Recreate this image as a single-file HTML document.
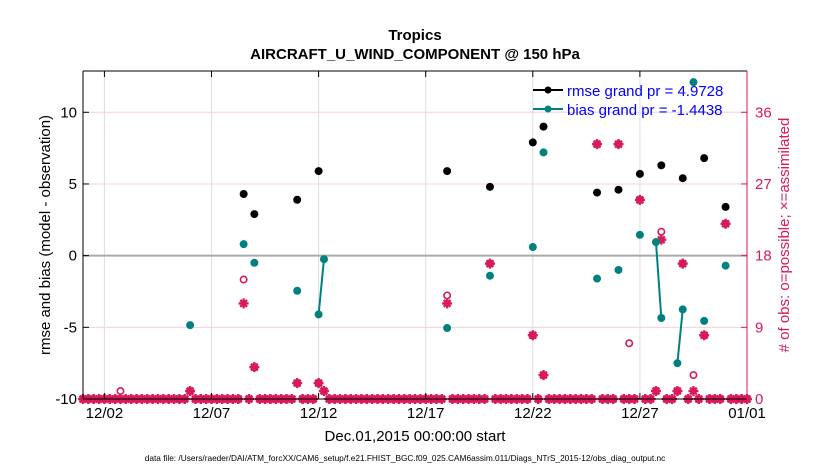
<!DOCTYPE html>
<html><head><meta charset="utf-8"><style>
html,body{margin:0;padding:0;background:#fff;}
svg{display:block;font-family:"Liberation Sans",Arial,sans-serif;}
</style></head><body>
<svg id="chart" width="830" height="470" viewBox="0 0 830 470" xmlns="http://www.w3.org/2000/svg">
<text x="415" y="40" text-anchor="middle" font-size="15" font-weight="bold">Tropics</text>
<text x="415" y="59" text-anchor="middle" font-size="15" font-weight="bold">AIRCRAFT_U_WIND_COMPONENT @ 150 hPa</text>
<g id="grid"></g>
<g id="marks"></g>
<g id="axes"></g>
<text transform="translate(50,235) rotate(-90)" text-anchor="middle" font-size="15">rmse and bias (model - observation)</text>
<text transform="translate(789,235) rotate(-90)" text-anchor="middle" font-size="15" fill="#d81a5a"># of obs: o=possible; ×=assimilated</text>
<text x="415" y="441" text-anchor="middle" font-size="15">Dec.01,2015 00:00:00 start</text>
<text x="405" y="461" text-anchor="middle" font-size="8.3">data file: /Users/raeder/DAI/ATM_forcXX/CAM6_setup/f.e21.FHIST_BGC.f09_025.CAM6assim.011/Diags_NTrS_2015-12/obs_diag_output.nc</text>
<g>
<line x1="533" y1="90" x2="563" y2="90" stroke="#000" stroke-width="2"/>
<circle cx="548" cy="90" r="3.5" fill="#000"/>
<text x="567" y="96" font-size="15" fill="#0000ff">rmse grand pr = 4.9728</text>
<line x1="533" y1="109" x2="563" y2="109" stroke="#008080" stroke-width="2"/>
<circle cx="548" cy="109" r="3.5" fill="#008080"/>
<text x="567" y="115" font-size="15" fill="#0000ff">bias grand pr = -1.4438</text>
</g>
</svg>
<script>
const rmseDays=[7.5,8,10,11,17,19,21,21.5,24,25,26,27,28,29,30];
const rmseVals=[4.3,2.9,3.9,5.9,5.9,4.8,7.9,9.0,4.4,4.6,5.7,6.3,5.4,6.8,3.4];
const biasDays=[5,7.5,8,10,11,11.25,17,19,21,21.5,24,25,26,26.75,27,27.75,28,28.5,29,30];
const biasVals=[-4.85,0.8,-0.5,-2.45,-4.1,-0.25,-5.05,-1.4,0.6,7.2,-1.6,-1.0,1.45,0.95,-4.35,-7.5,-3.75,12.1,-4.55,-0.7];
const possDays=[1.75,5,7.5,8,10,11,11.25,17,19,21,21.5,24,25,25.5,26,26.75,27,27.75,28,28.5,29,30];
const possCounts=[1,1,15,4,2,2,1,13,17,8,3,32,32,7,25,1,21,1,17,3,8,22];
const assimDays=[5,7.5,8,10,11,11.25,17,19,21,21.5,24,25,26,26.75,27,27.75,28,28.5,29,30];
const assimCounts=[1,12,4,2,2,1,12,17,8,3,32,32,25,1,20,1,17,1,8,22];
const xTickDays=[1,6,11,16,21,26,31];
const xTickLabels=["12/02","12/07","12/12","12/17","12/22","12/27","01/01"];
const yTicks=[-10,-5,0,5,10];
const y2Ticks=[0,9,18,27,36];

const L=83,R=747,T=71,B=399;
const X=d=>L+(d-0)*(R-L)/31;
const Y=v=>B-(v+10)*(B-T)/22.88;
const Y2=c=>B-c*(B-T)/41.18;
const NS="http://www.w3.org/2000/svg";
const RED="#d81a5a",TEAL="#008080";
function mk(tag,attrs,parent){const e=document.createElementNS(NS,tag);for(const k in attrs)e.setAttribute(k,attrs[k]);parent.appendChild(e);return e;}
const grid=document.getElementById('grid'),marks=document.getElementById('marks'),axes=document.getElementById('axes');

xTickDays.forEach((d,i)=>{
 const g=mk('line',{x1:X(d),x2:X(d),y1:T,y2:B,stroke:'#ddd','stroke-width':1},grid);
 
 
 mk('line',{x1:X(d),x2:X(d),y1:B,y2:B-6,stroke:'#000'},axes);
 mk('line',{x1:X(d),x2:X(d),y1:T,y2:T+6,stroke:'#000'},axes);
 const t=mk('text',{x:X(d),y:B+19,'text-anchor':'middle','font-size':15},axes);
 t.textContent=xTickLabels[i];
 
 
});
yTicks.forEach(v=>{
 if(v!==0&&v!==-10){const g=mk('line',{x1:L,x2:R,y1:Y(v),y2:Y(v),stroke:'#f5d0dc','stroke-width':1},grid);
 
 }
 mk('line',{x1:L,x2:L+6,y1:Y(v),y2:Y(v),stroke:'#000'},axes);
 const t=mk('text',{x:L-6,y:Y(v)+5,'text-anchor':'end','font-size':15},axes);
 t.textContent=v;
 
 
});
const zl=mk('line',{x1:L,x2:R,y1:Y(0),y2:Y(0),stroke:'#aaa','stroke-width':2},grid);


y2Ticks.forEach(c=>{
 mk('line',{x1:R,x2:R-6,y1:Y2(c),y2:Y2(c),stroke:RED},axes);
 const t=mk('text',{x:R+8,y:Y2(c)+5,'font-size':15,fill:RED},axes);
 t.textContent=c;
 
 
});
mk('line',{x1:L,x2:L,y1:T,y2:B,stroke:'#000'},axes);
mk('line',{x1:L,x2:R,y1:T,y2:T,stroke:'#000'},axes);
mk('line',{x1:L,x2:R,y1:B,y2:B,stroke:'#000'},axes);
mk('line',{x1:R,x2:R,y1:T,y2:B,stroke:RED},axes);

function star(x,y,parent,name){
 const g=mk('g',{stroke:RED,'stroke-width':2.4},parent);
 
 
 const r=5;
 mk('line',{x1:x-r,x2:x+r,y1:y,y2:y},g);mk('line',{x1:x,x2:x,y1:y-r,y2:y+r},g);
 mk('line',{x1:x-3.4,x2:x+3.4,y1:y-3.4,y2:y+3.4},g);mk('line',{x1:x-3.4,x2:x+3.4,y1:y+3.4,y2:y-3.4},g);
 return g;
}
for(let k=0;k<=124;k++){const d=k/4;if(assimDays.indexOf(d)<0){
 const g=mk('g',{},marks);
 
 
 mk('circle',{cx:X(d),cy:Y2(0),r:3.2,fill:RED,stroke:RED,'stroke-width':1.6},g);
 star(X(d),Y2(0),g,'zero-assimilated');
}}
possDays.forEach((d,i)=>{
 const c=mk('circle',{cx:X(d),cy:Y2(possCounts[i]),r:3.2,fill:'none',stroke:RED,'stroke-width':1.6},marks);
 
 
});
assimDays.forEach((d,i)=>{star(X(d),Y2(assimCounts[i]),marks,'assimilated-count-point');});

for(let i=1;i<biasDays.length;i++){
 if(Math.abs(biasDays[i]-biasDays[i-1]-0.25)<1e-6){
  const l=mk('line',{x1:X(biasDays[i-1]),y1:Y(biasVals[i-1]),x2:X(biasDays[i]),y2:Y(biasVals[i]),stroke:TEAL,'stroke-width':2},marks);
  
  
 }
}
for(let i=1;i<rmseDays.length;i++){
 if(Math.abs(rmseDays[i]-rmseDays[i-1]-0.25)<1e-6){
  const l=mk('line',{x1:X(rmseDays[i-1]),y1:Y(rmseVals[i-1]),x2:X(rmseDays[i]),y2:Y(rmseVals[i]),stroke:'#000','stroke-width':2},marks);
  
  
 }
}
rmseDays.forEach((d,i)=>{
 const c=mk('circle',{cx:X(d),cy:Y(rmseVals[i]),r:4,fill:'#000'},marks);
 
 
});
biasDays.forEach((d,i)=>{
 const c=mk('circle',{cx:X(d),cy:Y(biasVals[i]),r:4,fill:TEAL},marks);
 
 
});
</script>
</body></html>
